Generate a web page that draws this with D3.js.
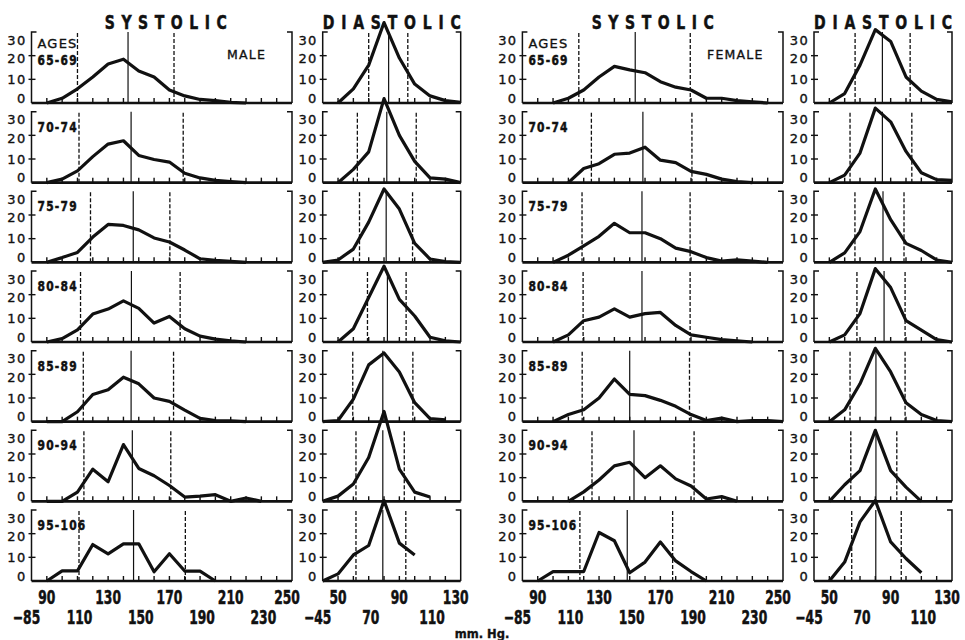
<!DOCTYPE html>
<html>
<head>
<meta charset="utf-8">
<script src="https://cdn.jsdelivr.net/npm/d3@7"></script>
<style>
  body { margin: 0; background: #fff; }
  svg text { fill: #111; }
  .narrow { font-family: "Liberation Sans Narrow", "DejaVu Sans Condensed", "DejaVu Sans", sans-serif; font-weight: bold; stroke: #111; stroke-width: 0.5; }
  .plain { font-family: "DejaVu Sans", sans-serif; stroke: #111; stroke-width: 0.35; }
</style>
</head>
<body>
<svg id="chart" width="965" height="640"></svg>
<script>
// age groups, one row each
const ages = ["65-69", "70-74", "75-79", "80-84", "85-89", "90-94", "95-106"];

// bin centres (mm Hg)
const sysBins = [90, 100, 110, 120, 130, 140, 150, 160, 170, 180, 190, 200, 210, 220, 230, 240, 250];
const diaBins = [40, 50, 60, 70, 80, 90, 100, 110, 120, 130];

// percent of group in each bin (null = no point)
const maleSys = [
  [0, 2, 6, 11, 16.5, 18.5, 13.5, 11, 5.5, 3, 1.5, 1, 0.3, 0, null, null, null],
  [0, 1.5, 5, 11, 16.3, 17.7, 11.5, 9.8, 8.7, 4, 2, 1, 0.5, 0, null, null, null],
  [0, 2, 4.2, 10.7, 16, 15.6, 13.7, 10.3, 8.6, 5.2, 1.5, 0.8, 0.4, 0, null, null, null],
  [0, 1.4, 5.1, 11.8, 13.9, 17.4, 14.2, 8, 10.8, 5.6, 2.5, 1.2, 0.5, 0, null, null, null],
  [0, 0, 4.2, 11.5, 13.5, 18.8, 16, 10, 8.6, 4.9, 1.4, 0.5, 0.3, 0, null, null, null],
  [0, 0, 3.9, 13.6, 8.3, 24, 13.9, 10.8, 6.7, 1.8, 2.2, 2.8, 0, 1.4, 0, null, null],
  [0, 4.3, 4.3, 15.4, 11.5, 15.7, 15.7, 3.9, 11.5, 4.2, 4.2, 0, null, null, null, null, null]
];
const maleDia = [
  [null, 0, 6, 16, 34, 19, 8, 3, 1, 0.3],
  [null, 0, 5.6, 13, 35.5, 20, 9, 2, 1.5, 0],
  [0, 1, 5.6, 17, 31, 22.5, 8, 1.4, 0.3, 0],
  [null, 0, 5.6, 18.8, 32, 18, 11, 2, 0.5, 0],
  [0, 0.5, 9.5, 24, 29, 21, 8, 1.3, 0.8, null],
  [0, 2.2, 7.3, 18.5, 38, 13.6, 3.9, 1.8, null, null],
  [0, 3, 11, 15, 34, 16, 11, null, null, null]
];
const femaleSys = [
  [null, 0, 2, 5.5, 11, 15.5, 14, 12.8, 9, 6.7, 5.5, 2, 2, 1, 0.5, 0, null],
  [null, null, 0, 6, 8, 12, 12.5, 15, 9.5, 8.5, 4.8, 3.5, 1.5, 0.5, 0, null, null],
  [null, 0, 3, 7, 11, 16.5, 12.5, 12.5, 10, 6, 4.5, 2, 0.5, 1, 0.5, 0, null],
  [null, 0, 3, 9, 10.5, 14, 10.5, 12, 12.5, 7, 3, 2, 1, 0.5, 0, null, null],
  [null, 0, 3, 5, 10, 18, 11.5, 11, 9, 6.5, 3, 0.5, 1.5, 0, 0.5, 0.5, 0],
  [null, null, 0, 4, 9, 15, 16.5, 10, 15, 9.5, 6.5, 1, 2, 0, null, null, null],
  [0, 4, 4, 4, 20.5, 17, 3.5, 8, 16.5, 8.5, 4, 0, null, null, null, null, null]
];
const femaleDia = [
  [null, 0, 4, 16, 31, 26, 11, 5, 1.5, 0.5],
  [null, 0, 3.2, 12.5, 31.5, 25.7, 13.2, 4.2, 1.3, 1],
  [null, 0, 4, 13, 31, 18, 8, 5, 1, 0],
  [null, 0, 3, 12, 31, 23, 9, 5, 1, 0],
  [null, 0, 5, 16, 31, 21, 8, 3, 0.5, 0],
  [null, 0, 7, 13, 30, 13, 6, 0, null, null],
  [null, 0, 8, 25, 34, 16.5, 9.5, 3.5, null, null]
];

// [low dashed, median solid, high dashed]
const maleSysRefs = [[110, 143, 173], [111, 145, 179], [118.5, 146.4, 170.3], [112, 145.2, 177], [113.8, 145, 172.7], [114.2, 145.8, 170.9], [111, 146.6, 180.4]];
const maleDiaRefs = [[70, 83, 95.5], [62.6, 81.8, 101], [64, 81.4, 98.6], [69.2, 82.2, 94.4], [59.6, 79.2, 98.8], [61.7, 79.2, 93.2], [61.7, 79.2, 94.2]];
const femaleSysRefs = [[116.8, 153.6, 189.5], [125, 158.6, 190.6], [118.9, 158, 189.4], [119.6, 158, 189.4], [119, 150, 189], [125.4, 152.8, 192], [117.5, 148.4, 178]];
const femaleDiaRefs = [[66.8, 84.6, 102.7], [63.5, 84.6, 103.8], [66.7, 85, 98.7], [68, 85.7, 99.4], [63.5, 80.4, 99.4], [64, 80.4, 94], [64.6, 80.3, 96.9]];

// axis labels
const yTicks = [0, 10, 20, 30];
const sysTopTicks = [90, 130, 170, 210, 250];
const sysLowTicks = [80, 110, 150, 190, 230];
const sysLowText = ["−85", "110", "150", "190", "230"];
const diaTopTicks = [50, 90, 130];
const diaLowTicks = [40, 70, 110];
const diaLowText = ["−45", "70", "110"];

const svg = d3.select("#chart");
const rowY = d3.scaleLinear().domain([0, 6]).range([103, 581]);
const panelH = 71;
const yLabelNudge = [-5, 0, 2.5, 8];
const squeeze = 0.72; // bold lettering in the scan is very condensed

// bold condensed text, squeezed horizontally
function narrow(parent, x, y, str, size, anchor, sx = squeeze) {
  return parent.append("text")
    .attr("class", "narrow")
    .attr("transform", `translate(${x},${y}) scale(${sx},1)`)
    .attr("text-anchor", anchor)
    .attr("font-size", size)
    .text(str);
}

const columns = [
  { title: "SYSTOLIC", titleW: 122, bins: sysBins, series: maleSys, refs: maleSysRefs, domain: [80, 250], range: [31.5, 292], sex: "MALE",
    top: sysTopTicks, low: sysLowTicks, lowText: sysLowText },
  { title: "DIASTOLIC", titleW: 138, bins: diaBins, series: maleDia, refs: maleDiaRefs, domain: [40, 130], range: [322.7, 460.7],
    top: diaTopTicks, low: diaLowTicks, lowText: diaLowText },
  { title: "SYSTOLIC", titleW: 122, bins: sysBins, series: femaleSys, refs: femaleSysRefs, domain: [80, 250], range: [522.4, 783], sex: "FEMALE",
    top: sysTopTicks, low: sysLowTicks, lowText: sysLowText },
  { title: "DIASTOLIC", titleW: 138, bins: diaBins, series: femaleDia, refs: femaleDiaRefs, domain: [40, 130], range: [814, 952],
    top: diaTopTicks, low: diaLowTicks, lowText: diaLowText }
];

columns.forEach((col, c) => {
  const x = d3.scaleLinear().domain(col.domain).range(col.range);
  const [x0, x1] = col.range;
  const g = svg.append("g");

  // spaced-out title, stretched to its width
  narrow(g, (x0 + x1) / 2 + (c === 0 ? 4 : 0), 29, col.title, 19.5, "middle", 0.8)
    .attr("textLength", col.titleW / 0.8)
    .attr("lengthAdjust", "spacing");

  col.series.forEach((vals, i) => {
    const base = rowY(i);
    const y = d3.scaleLinear().domain([0, 30]).range([base, base - panelH]);
    const p = g.append("g");

    // reference lines
    col.refs[i].forEach((v, k) => {
      p.append("line")
        .attr("x1", x(v)).attr("x2", x(v))
        .attr("y1", y(0)).attr("y2", y(30))
        .attr("stroke", "#111")
        .attr("stroke-width", k === 1 ? 1.2 : 1.3)
        .attr("stroke-dasharray", k === 1 ? null : "4,2");
    });

    // bottom axis with inward ticks
    p.append("line")
      .attr("x1", x0).attr("x2", x1).attr("y1", base).attr("y2", base)
      .attr("stroke", "#111").attr("stroke-width", 2.6);
    col.bins.filter(b => b > col.domain[0] && b < col.domain[1]).forEach(b => {
      p.append("line")
        .attr("x1", x(b)).attr("x2", x(b)).attr("y1", base).attr("y2", base - 5)
        .attr("stroke", "#111").attr("stroke-width", 1.4);
    });

    // brackets on both sides
    [[x0, 1], [x1, -1]].forEach(([bx, dir]) => {
      p.append("path")
        .attr("d", `M${bx + dir * 5},${y(30)}H${bx}V${base}`)
        .attr("fill", "none").attr("stroke", "#111").attr("stroke-width", 1.5);
      [10, 20].forEach(t => {
        p.append("line")
          .attr("x1", bx - 3).attr("x2", bx + 4 * dir + (dir < 0 ? 1 : 0))
          .attr("y1", y(t)).attr("y2", y(t))
          .attr("stroke", "#111").attr("stroke-width", 1.4);
      });
    });

    // y labels
    yTicks.forEach((t, k) => {
      p.append("text")
        .attr("class", "plain")
        .attr("x", x0 - 5)
        .attr("y", y(t) + yLabelNudge[k])
        .attr("dy", "0.36em")
        .attr("text-anchor", "end")
        .attr("font-size", 13)
        .attr("letter-spacing", 1.3)
        .text(t);
    });

    // distribution curve
    const line = d3.line()
      .defined(d => d[1] != null)
      .x(d => x(d[0]))
      .y(d => y(d[1]));
    p.append("path")
      .datum(col.bins.map((b, k) => [b, vals[k]]))
      .attr("d", line)
      .attr("fill", "none")
      .attr("stroke", "#111")
      .attr("stroke-width", 3.2)
      .attr("stroke-linejoin", "round");

    // age labels in systolic panels
    if (col.sex) {
      if (i === 0) {
        p.append("text").attr("class", "plain")
          .attr("x", x0 + 6).attr("y", base - 55)
          .attr("font-size", 13).attr("letter-spacing", 1.2)
          .text("AGES");
        p.append("text").attr("class", "plain")
          .attr("x", x1 - 65 + (col.sex === "MALE" ? 0 : -11)).attr("y", base - 44)
          .attr("font-size", 12.5).attr("letter-spacing", 1.2)
          .text(col.sex);
      }
      narrow(p, x0 + 6, i === 0 ? base - 38 : base - 51, ages[i], 14.5, "start", 0.82)
        .attr("letter-spacing", 1.5);
    }
  });

  // tick labels under the last row
  const lastBase = rowY(6);
  col.top.forEach(v => {
    narrow(g, x(v) + (v === col.domain[1] ? -5 : 0), lastBase + 23, v, 19, "middle");
  });
  col.low.forEach((v, k) => {
    narrow(g, x(v) + (v === col.domain[0] ? -5 : 2), lastBase + 43, col.lowText[k], 19, "middle");
  });
});

svg.append("text")
  .attr("class", "plain")
  .attr("x", 482).attr("y", 638)
  .attr("text-anchor", "middle")
  .attr("font-size", 11.5)
  .attr("font-weight", "bold")
  .text("mm. Hg.");
</script>
</body>
</html>
